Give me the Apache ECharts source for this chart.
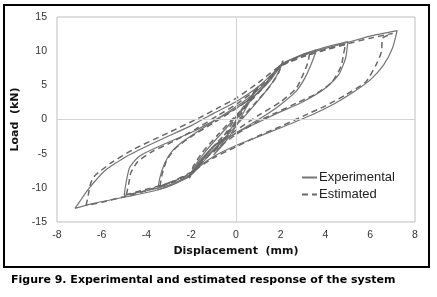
<!DOCTYPE html>
<html><head><meta charset="utf-8">
<script src="https://cdn.jsdelivr.net/npm/echarts/dist/echarts.min.js"></script>
<style>html,body{margin:0;padding:0;background:#fff}#c{width:437px;height:297px}</style>
</head><body><div id="c"></div>
<script>
// Tick values
var xTicks = [-8, -6, -4, -2, 0, 2, 4, 6, 8];
var yTicks = [-15, -10, -5, 0, 5, 10, 15];

// Experimental loops: [displacement (mm), load (kN)]
var expLoop1 = [[-1.0,-5.2],[-0.6,-3.4],[-0.2,-1.2],[0.2,1.0],[0.6,3.0],[1.0,4.9],
                [0.6,2.6],[0.2,0.2],[-0.2,-2.0],[-0.6,-3.8],[-1.0,-5.2]];
var expLoop2 = [[-2.1,-8.4],[-1.8,-6.6],[-1.4,-4.8],[-1.0,-3.3],[-0.5,-1.5],[0,0.4],[0.5,2.2],[1.0,4.0],[1.5,5.9],[2.1,8.4],
                [1.8,6.3],[1.4,4.4],[1.0,2.8],[0.5,0.9],[0,-0.9],[-0.5,-2.7],[-1.0,-4.5],[-1.5,-6.3],[-2.1,-8.4]];
var expLoop3 = [[-3.5,-10.3],[-3.4,-8.5],[-3.2,-6.5],[-2.9,-4.8],[-2.4,-3.3],[-1.5,-1.3],[-0.5,0.8],[0.5,3.0],[1.4,5.6],[2.0,8.0],[2.6,9.0],[3.1,9.7],[3.6,10.2],
                [3.4,8.4],[3.1,6.2],[2.7,4.2],[2.0,2.2],[1.4,0.8],[0.5,-1.0],[-0.5,-3.0],[-1.4,-5.6],[-2.0,-8.0],[-2.6,-9.2],[-3.1,-9.9],[-3.5,-10.3]];
var expLoop4 = [[-5.0,-11.1],[-4.9,-9.0],[-4.75,-7.0],[-4.4,-5.6],[-4.0,-4.8],[-3.0,-3.3],[-2.0,-1.9],[-1.0,-0.2],[0,1.6],[1.0,4.0],[1.6,6.0],[2.1,8.2],[3.0,9.5],[4.0,10.6],[5.0,11.4],
                [4.9,9.0],[4.6,6.6],[4.0,4.6],[3.0,2.6],[1.9,1.0],[1.0,-0.4],[0,-2.0],[-1.0,-4.0],[-1.6,-6.0],[-2.1,-8.2],[-3.0,-9.6],[-4.0,-10.4],[-5.0,-11.1]];
var expLoop5 = [[-7.2,-13.0],[-6.9,-11.6],[-6.6,-10.2],[-5.9,-7.6],[-4.9,-5.4],[-3.4,-3.0],[-2.0,-0.9],[-1.0,0.9],[0,2.6],[1.0,4.8],[1.6,6.6],[2.1,8.2],[3.0,9.4],[4.0,10.4],[5.0,11.3],[6.0,12.2],[7.2,13.0],
                [7.0,10.5],[6.6,8.0],[6.0,5.8],[5.2,3.9],[4.4,2.3],[3.4,0.7],[2.0,-1.2],[1.0,-2.5],[0,-3.8],[-1.0,-5.4],[-1.6,-6.8],[-2.1,-8.4],[-3.4,-10.2],[-4.9,-11.3],[-6.4,-12.3],[-7.2,-13.0]];

// Estimated loops
var estLoop1 = [[-1.0,-4.8],[-0.5,-2.2],[0,0.3],[0.5,2.6],[1.0,4.8],
                [0.5,2.2],[0,-0.3],[-0.5,-2.6],[-1.0,-4.8]];
var estLoop2 = [[-2.1,-8.6],[-1.9,-6.8],[-1.5,-4.8],[-0.8,-2.2],[0,0.6],[0.8,3.2],[1.5,5.8],[2.1,8.6],
                [1.9,6.8],[1.5,4.8],[0.8,2.2],[0,-0.6],[-0.8,-3.2],[-1.5,-5.8],[-2.1,-8.6]];
var estLoop3 = [[-3.4,-9.8],[-3.3,-8.0],[-3.1,-6.0],[-2.7,-4.2],[-2.0,-2.5],[-1.0,-0.5],[0,1.6],[1.0,3.9],[2.0,7.8],[2.7,9.0],[3.3,9.8],
                [3.2,8.2],[3.0,6.6],[2.7,4.6],[2.0,2.6],[1.0,0.6],[0,-1.6],[-1.0,-3.9],[-2.0,-7.8],[-2.7,-9.0],[-3.4,-9.8]];
var estLoop4 = [[-4.9,-11.0],[-4.8,-9.5],[-4.7,-7.8],[-4.4,-6.2],[-3.8,-4.8],[-2.8,-3.2],[-1.8,-1.4],[-0.8,0.6],[0,2.2],[1.0,4.6],[2.0,7.8],[3.0,9.2],[4.0,10.2],[4.9,11.0],
                [4.8,9.5],[4.7,7.8],[4.3,5.5],[3.6,3.8],[2.7,2.4],[1.8,1.0],[0.8,-0.6],[0,-2.2],[-1.0,-4.6],[-2.0,-7.8],[-3.0,-9.3],[-4.0,-10.2],[-4.9,-11.0]];
var estLoop5 = [[-6.7,-12.6],[-6.6,-11.0],[-6.5,-9.4],[-6.3,-8.2],[-5.6,-6.4],[-4.6,-4.4],[-3.0,-1.9],[-1.6,0.3],[-0.8,1.7],[0,3.1],[1.0,5.4],[2.0,7.9],[3.0,9.2],[4.0,10.2],[5.0,11.1],[6.0,11.9],[7.0,12.6],
                [6.56,11.9],[6.5,9.9],[6.26,8.0],[5.8,5.5],[4.9,3.6],[4.0,2.0],[3.0,0.5],[2.0,-1.0],[1.0,-2.4],[0,-4.0],[-1.0,-5.6],[-2.0,-7.7],[-3.0,-9.3],[-4.0,-10.4],[-5.0,-11.3],[-6.0,-12.1],[-6.7,-12.6]];

var expLoops = [expLoop1, expLoop2, expLoop3, expLoop4, expLoop5];
var estLoops = [estLoop1, estLoop2, estLoop3, estLoop4, estLoop5];

var series = [{
  type: 'line', data: [[0, 0]], symbol: 'none', lineStyle: {opacity: 0}, z: 1, silent: true,
  markLine: {silent: true, symbol: 'none', label: {show: false},
    lineStyle: {color: '#d4d4d4', type: 'solid', width: 1},
    data: [{xAxis: 0}, {yAxis: 0}], animation: false}
}];
expLoops.forEach(function (l) {
  series.push({name: 'Experimental', type: 'line', data: l, symbol: 'none', smooth: 0.2,
    lineStyle: {color: '#747474', width: 1.2, type: 'solid'}, itemStyle: {color: '#747474'}, z: 3});
});
estLoops.forEach(function (l) {
  series.push({name: 'Estimated', type: 'line', data: l, symbol: 'none', smooth: 0.2,
    lineStyle: {color: '#686868', width: 1.5, type: [6, 4]}, itemStyle: {color: '#686868'}, z: 4});
});

var chart = echarts.init(document.getElementById('c'), null, {renderer: 'canvas'});
chart.setOption({
  animation: false,
  backgroundColor: '#fff',
  title: {text: 'Figure 9. Experimental and estimated response of the system', left: 6, top: 270,
    textStyle: {fontFamily: 'DejaVu Sans', fontWeight: 'bold', fontSize: 11, color: '#000'}},
  graphic: [{type: 'rect', shape: {x: 4, y: 5, width: 425, height: 262},
    style: {fill: 'none', stroke: '#000', lineWidth: 2}, silent: true}],
  legend: {orient: 'vertical', left: 296, top: 166, itemWidth: 15, itemHeight: 10, itemGap: 4,
    data: ['Experimental', 'Estimated'],
    itemStyle: {opacity: 0},
    textStyle: {fontFamily: 'Liberation Sans', fontSize: 13, color: '#222', padding: [0, 0, 0, -3]}},
  grid: {left: 57, top: 17, right: 22, bottom: 75, show: true, borderColor: '#bdbdbd', borderWidth: 1},
  xAxis: {type: 'value', min: xTicks[0], max: xTicks[xTicks.length - 1], interval: 2,
    name: 'Displacement  (mm)', nameLocation: 'middle', nameGap: 22,
    nameTextStyle: {fontFamily: 'DejaVu Sans', fontWeight: 'bold', fontSize: 11, color: '#111'},
    axisLine: {show: false}, axisTick: {show: false}, splitLine: {show: false},
    axisLabel: {margin: 8, fontFamily: 'Liberation Sans', fontSize: 10.5, color: '#333'}},
  yAxis: {type: 'value', min: yTicks[0], max: yTicks[yTicks.length - 1], interval: 5,
    name: 'Load  (kN)', nameLocation: 'middle', nameGap: 31,
    nameTextStyle: {fontFamily: 'DejaVu Sans', fontWeight: 'bold', fontSize: 11, color: '#111'},
    axisLine: {show: false}, axisTick: {show: false}, splitLine: {show: false},
    axisLabel: {margin: 10, fontFamily: 'Liberation Sans', fontSize: 10.5, color: '#333'}},
  series: series
});
</script></body></html>
